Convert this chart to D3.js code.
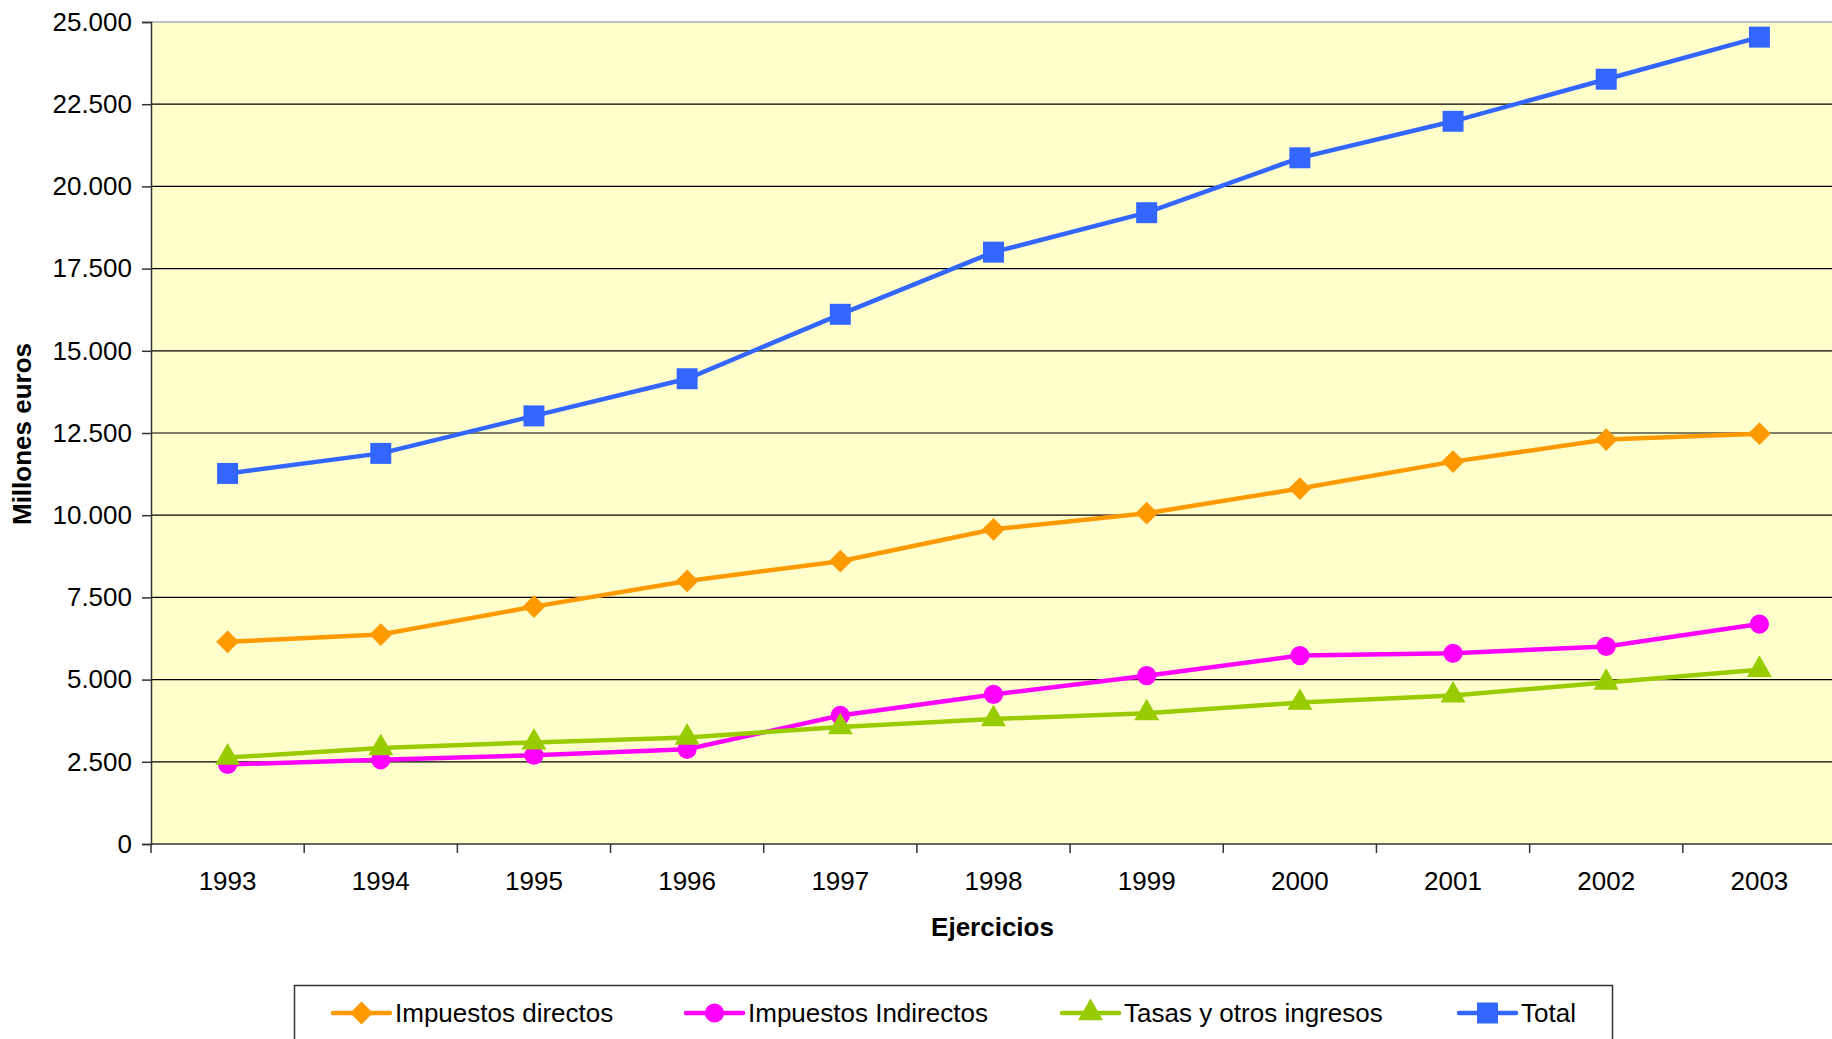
<!DOCTYPE html>
<html>
<head>
<meta charset="utf-8">
<script src="https://cdn.jsdelivr.net/npm/d3@7"></script>
<style>
  body { margin: 0; background: #fff; overflow: hidden; }
  svg { display: block; font-family: "Liberation Sans", Arial, sans-serif; }
</style>
</head>
<body>
<svg id="chart" width="1832" height="1039"></svg>
<script>
// data (millones de euros)
const years = ["1993", "1994", "1995", "1996", "1997", "1998", "1999", "2000", "2001", "2002", "2003"];
const directos = [6150, 6370, 7220, 8000, 8600, 9570, 10060, 10810, 11630, 12300, 12480];
const indirectos = [2420, 2560, 2700, 2880, 3910, 4550, 5120, 5730, 5800, 6010, 6690];
const tasas = [2630, 2920, 3090, 3240, 3560, 3800, 3980, 4300, 4520, 4910, 5300];
const total = [11270, 11880, 13020, 14150, 16110, 18000, 19200, 20870, 21980, 23260, 24540];
const yTicks = [0, 2500, 5000, 7500, 10000, 12500, 15000, 17500, 20000, 22500, 25000];

const series = [
  { name: "Impuestos directos", values: directos, color: "#FF9900", symbol: d3.symbolDiamond2, size: 330 },
  { name: "Impuestos Indirectos", values: indirectos, color: "#FF00FF", symbol: d3.symbolCircle, size: 290 },
  { name: "Tasas y otros ingresos", values: tasas, color: "#99CC00", symbol: d3.symbolTriangle, size: 270 },
  { name: "Total", values: total, color: "#3366FF", symbol: d3.symbolSquare, size: 440 }
];

const svg = d3.select("#chart");
const plotLeft = 151, plotRight = 1836, plotTop = 22, plotBottom = 844;

const x = d3.scaleBand().domain(years).range([plotLeft, plotRight]);
const y = d3.scaleLinear().domain([0, 25000]).range([plotBottom, plotTop]);

// plot background
svg.append("rect")
  .attr("x", plotLeft).attr("y", plotTop)
  .attr("width", plotRight - plotLeft).attr("height", plotBottom - plotTop)
  .attr("fill", "#FFFFCC");

// gridlines
svg.append("g")
  .selectAll("line")
  .data(yTicks.filter(d => d > 0 && d < 25000))
  .join("line")
  .attr("x1", plotLeft).attr("x2", plotRight)
  .attr("y1", d => y(d)).attr("y2", d => y(d))
  .attr("stroke", "#000").attr("stroke-width", 1.2);

svg.append("line")
  .attr("x1", plotLeft).attr("x2", plotRight)
  .attr("y1", y(25000)).attr("y2", y(25000))
  .attr("stroke", "#C0C0C0").attr("stroke-width", 2);

// y axis
const yAxis = svg.append("g")
  .attr("transform", `translate(${plotLeft},0)`)
  .call(d3.axisLeft(y).tickValues(yTicks).tickSize(9).tickPadding(10)
    .tickFormat(d => d3.format(",")(d).replace(/,/g, ".")));
yAxis.select(".domain").attr("stroke", "#333").attr("stroke-width", 1.5);
yAxis.selectAll(".tick line").attr("stroke", "#333").attr("stroke-width", 1.5);
yAxis.selectAll("text").attr("font-size", 26).attr("fill", "#000").attr("font-family", "Liberation Sans, Arial");

// x axis with ticks at band boundaries
const xg = svg.append("g").attr("transform", `translate(0,${plotBottom})`);
xg.append("line").attr("x1", plotLeft).attr("x2", plotRight).attr("y1", 0).attr("y2", 0)
  .attr("stroke", "#333").attr("stroke-width", 1.5);
xg.selectAll(".bt")
  .data(years)
  .join("line")
  .attr("x1", d => x(d)).attr("x2", d => x(d))
  .attr("y1", 0).attr("y2", 9)
  .attr("stroke", "#333").attr("stroke-width", 1.5);
xg.selectAll("text")
  .data(years)
  .join("text")
  .attr("x", d => x(d) + x.bandwidth() / 2)
  .attr("y", 46)
  .attr("text-anchor", "middle")
  .attr("font-size", 26)
  .text(d => d);

// axis titles
svg.append("text")
  .attr("x", (plotLeft + plotRight) / 2 - 1).attr("y", 936)
  .attr("text-anchor", "middle")
  .attr("font-size", 26).attr("font-weight", "bold")
  .text("Ejercicios");

svg.append("text")
  .attr("transform", "translate(31,434) rotate(-90)")
  .attr("text-anchor", "middle")
  .attr("font-size", 26).attr("font-weight", "bold")
  .text("Millones euros");

// lines and markers
const line = d3.line()
  .x((d, i) => x(years[i]) + x.bandwidth() / 2)
  .y(d => y(d));

series.forEach(s => {
  svg.append("path")
    .datum(s.values)
    .attr("d", line)
    .attr("fill", "none")
    .attr("stroke", s.color)
    .attr("stroke-width", 4.5);
});

series.forEach(s => {
  svg.append("g")
    .selectAll("path")
    .data(s.values)
    .join("path")
    .attr("transform", (d, i) => `translate(${x(years[i]) + x.bandwidth() / 2},${y(d)})`)
    .attr("d", d3.symbol().type(s.symbol).size(s.size))
    .attr("fill", s.color);
});

// legend
const legend = svg.append("g");
legend.append("rect")
  .attr("x", 294.5).attr("y", 985.5)
  .attr("width", 1318).attr("height", 80)
  .attr("fill", "#fff").attr("stroke", "#333").attr("stroke-width", 1.5);

const legendX = [333, 686, 1062, 1459];
series.forEach((s, i) => {
  const g = legend.append("g").attr("transform", `translate(${legendX[i]},1013)`);
  g.append("line")
    .attr("x1", 0).attr("x2", 57)
    .attr("stroke", s.color).attr("stroke-width", 4.5)
    .attr("stroke-linecap", "round");
  g.append("path")
    .attr("transform", "translate(28.5,0)")
    .attr("d", d3.symbol().type(s.symbol).size(s.size))
    .attr("fill", s.color);
  g.append("text")
    .attr("x", 62).attr("y", 9)
    .attr("font-size", 26)
    .text(s.name);
});
</script>
</body>
</html>
